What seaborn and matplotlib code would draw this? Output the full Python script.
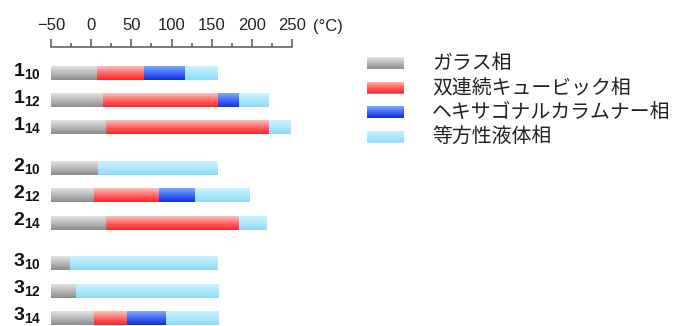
import numpy as np
import matplotlib.pyplot as plt
import seaborn as sns
from matplotlib.colors import LinearSegmentedColormap
from matplotlib.ticker import MultipleLocator

# data: transition temperatures (°C), each phase runs from the previous end to its own end
compounds = ['1', '1', '1', '2', '2', '2', '3', '3', '3']
chains = ['10', '12', '14', '10', '12', '14', '10', '12', '14']
t_start = -50
glass_end = [7, 15, 19, 9, 4, 18, -26, -19, 3]
cubic_end = [66, 158, 221, 9, 85, 184, -26, -19, 45]
hex_end = [117, 184, 221, 9, 129, 184, -26, -19, 93]
iso_end = [158, 221, 248, 158, 197, 218, 158, 158, 158]
phases = ['ガラス相', '双連続キュービック相', 'ヘキサゴナルカラムナー相', '等方性液体相']
ticks = [-50, 0, 50, 100, 150, 200, 250]

sns.set_style('white')
plt.rcParams['font.family'] = ['Liberation Sans', 'Noto Sans CJK JP', 'DejaVu Sans']
plt.rcParams['mathtext.fontset'] = 'custom'
plt.rcParams['mathtext.rm'] = 'Liberation Sans'
plt.rcParams['mathtext.bf'] = 'Liberation Sans:bold'

# glossy gradient per phase (top -> bottom)
cmaps = [
    LinearSegmentedColormap.from_list('glass', ['#e2e2e2', '#b9b9b9', '#8c8c8c']),
    LinearSegmentedColormap.from_list('cub', ['#ffc0c0', '#ff6a6a', '#ff2424']),
    LinearSegmentedColormap.from_list('hex', ['#7fa8ff', '#3f6af5', '#1430dc']),
    LinearSegmentedColormap.from_list('iso', ['#cdf3ff', '#aee8fc', '#8fdaf6']),
]
grad = np.linspace(0, 1, 64).reshape(-1, 1)


def fill_gradient(axis, bars, cmap):
    for bar in bars:
        x, y = bar.get_x(), bar.get_y()
        w, h = bar.get_width(), bar.get_height()
        if w <= 0:
            continue
        im = axis.imshow(grad, cmap=cmap, aspect='auto', origin='upper',
                         extent=(x, x + w, y + h, y), interpolation='bilinear',
                         zorder=3)
        im.set_clip_path(bar)


fig = plt.figure(figsize=(6.75, 3.26), dpi=100)
ax = fig.add_axes([51 / 675, 0, 241 / 675, 279 / 326])

# rows grouped by compound with a half-row gap between groups
groups = [int(c) - 1 for c in compounds]
ypos = np.array([i + 0.5 * g for i, g in enumerate(groups)])

lefts = [np.full(len(ypos), t_start), glass_end, cubic_end, hex_end]
rights = [glass_end, cubic_end, hex_end, iso_end]
for left, right, cmap in zip(lefts, rights, cmaps):
    widths = np.array(right) - np.array(left)
    bars = ax.barh(ypos, widths, left=left, height=0.51, color=cmap(0.5), linewidth=0)
    fill_gradient(ax, bars, cmap)

for y, c, n in zip(ypos, compounds, chains):
    ax.annotate(r'$\mathbf{' + c + '_{' + n + '}}$', xy=(0, y),
                xycoords=('axes fraction', 'data'), xytext=(-27.5, 1.8),
                textcoords='offset points', ha='left', va='center',
                fontsize=14, color='#111111')

ax.set_xlim(-50, 250)
ax.set_ylim(9.3, -0.956)
ax.xaxis.tick_top()
ax.set_xticks(ticks)
ax.xaxis.set_minor_locator(MultipleLocator(25))
ax.tick_params(axis='x', which='major', direction='out', length=6, width=1.1,
               color='#555555', labelsize=12, pad=4, labelcolor='#222222')
ax.tick_params(axis='x', which='minor', direction='out', length=3.2, width=1.1,
               color='#555555')
ax.tick_params(axis='y', left=False, labelleft=False)
ax.set_yticks([])
for side in ['bottom', 'left', 'right']:
    ax.spines[side].set_visible(False)
ax.spines['top'].set_color('#555555')
ax.spines['top'].set_linewidth(1.1)
ax.annotate('(°C)', xy=(1, 1), xycoords='axes fraction', xytext=(15, 14.5),
            textcoords='offset points', ha='left', va='center', fontsize=12,
            color='#222222')

# legend with gradient swatches
lax = fig.add_axes([360 / 675, 1 - 150 / 326, 315 / 675, 110 / 326])
lax.set_axis_off()
leg_y = 23 + 24.5 * np.arange(len(phases))
for i, (name, cmap) in enumerate(zip(phases, cmaps)):
    sw = lax.barh([leg_y[i]], [37], left=7, height=12, color=cmap(0.5), linewidth=0)
    fill_gradient(lax, sw, cmap)
    lax.text(72, leg_y[i], name, ha='left', va='center', fontsize=14.3,
             family=['Noto Sans CJK JP'], color='#222222')
lax.set_xlim(0, 315)
lax.set_ylim(110, 0)

fig.savefig('out.png', dpi=100)
